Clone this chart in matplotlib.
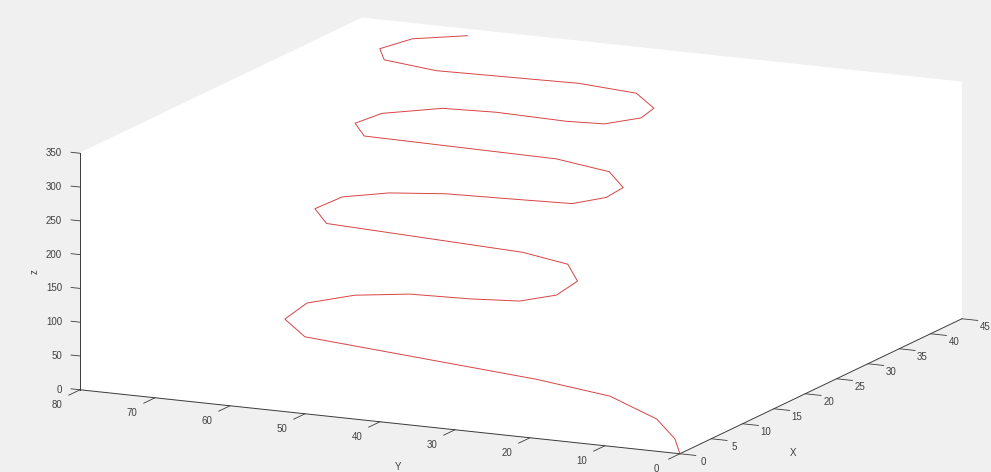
import matplotlib
matplotlib.use('Agg')
import matplotlib.pyplot as plt
from mpl_toolkits.mplot3d import proj3d

plt.rcParams['font.family'] = ['Liberation Sans', 'DejaVu Sans']

# trajectory points
x = [0, 1.6, 3.6, 5.6, 6.6, 8.6, 10.3, 12.4, 13.8, 14.6, 14.8, 15.1, 16.2, 18.0,
     19.8, 20.6, 21.0, 21.5, 23.0, 24.6, 25.6, 26.2, 26.4, 26.6, 27.7, 29.0,
     30.6, 31.4, 31.7, 33.0, 34.4, 35.7, 35.9, 35.7, 35.9, 37.0, 38.2, 39.7,
     40.1, 39.8, 40.4, 41.6, 43.1, 44.1]
y = [0, 2.0, 6.1, 14.0, 24.6, 57.2, 61.3, 60.1, 54.9, 48.2, 40.4, 34.0, 30.0, 28.7,
     31.5, 38.2, 51.0, 65.1, 67.9, 65.6, 60.2, 53.1, 45.2, 36.6, 33.0, 31.8,
     35.0, 42.7, 68.6, 70.9, 68.5, 61.5, 54.5, 45.0, 40.1, 36.1, 35.4, 39.0,
     47.0, 65.8, 73.2, 74.8, 71.7, 65.2]
z = [0, 12.6, 28.2, 43.8, 51.7, 67.2, 81.0, 96.9, 108.4, 114.4, 115.7, 118.7, 127.4,
     141.5, 155.3, 161.5, 164.9, 168.3, 180.2, 193.2, 201.1, 205.6, 206.9, 208.8,
     217.2, 227.5, 240.1, 246.4, 248.3, 258.7, 269.9, 279.9, 281.5, 280.3, 281.3,
     290.0, 299.9, 311.2, 314.5, 312.4, 317.0, 326.2, 337.9, 345.7]

xticks = [0, 5, 10, 15, 20, 25, 30, 35, 40, 45]
yticks = [0, 10, 20, 30, 40, 50, 60, 70, 80]
zticks = [0, 50, 100, 150, 200, 250, 300, 350]

txt = '#404040'
dark = '#3a3a3a'

fig = plt.figure(figsize=(9.91, 4.72), dpi=100, facecolor='#f0f0f0')
ax = fig.add_axes([0.0122, -0.5782, 1.0, 2.0996], projection='3d', proj_type='ortho')
ax.set_facecolor('#f0f0f0')
ax.view_init(elev=13.06, azim=-154.73)
ax.set_box_aspect((1, 1.004, 0.3675), zoom=0.9474)

ax.plot(x, y, z, color='#d84444', linewidth=0.7)

ax.set_xlim(0, 45)
ax.set_ylim(0, 80)
ax.set_zlim(0, 350)
ax.set_xticks(xticks)
ax.set_yticks(yticks)
ax.set_zticks(zticks)
ax.grid(False)

tick_len = {'x': 0.33, 'y': 0.5, 'z': 0.0}
for name, axis in (('x', ax.xaxis), ('y', ax.yaxis), ('z', ax.zaxis)):
    axis.set_pane_color((1, 1, 1, 1))
    axis.line.set_color(dark)
    axis.line.set_linewidth(0.7)
    axis._axinfo['tick']['inward_factor'] = tick_len[name]
    axis._axinfo['tick']['outward_factor'] = 0.0
    axis._axinfo['tick']['linewidth'] = {True: 0.6, False: 0.5}
    axis.set_tick_params(which='both', labelbottom=False, labeltop=False, colors=dark)
    axis.label.set_visible(False)
    axis.offsetText.set_visible(False)

# z ticks point left (along y) as in the MATLAB figure
for v in zticks:
    ax.plot([0, 0], [80, 81.2], [v, v], color=dark, linewidth=0.6)

# tick labels placed MATLAB-style next to the axes (projected to 2D text)
M = ax.get_proj()


def label3d(xv, yv, zv, s, **kw):
    px, py, _ = proj3d.proj_transform(xv, yv, zv, M)
    ax.text2D(float(px), float(py), s, transform=ax.transData, fontsize=7, color=txt, **kw)


for v in xticks:
    label3d(v, -3.1, -8.2, str(v), ha='center', va='center')
for v in yticks:
    label3d(-3.7, v, -6.0, str(v), ha='center', va='center')
for v in zticks:
    label3d(0, 82.4, v - 2.8, str(v), ha='right', va='center')

fig.text(0.0353, 0.4237, 'z', fontsize=7, color=txt, rotation=90, ha='center', va='center')
fig.text(0.4016, 0.0106, 'Y', fontsize=7, color=txt, ha='center', va='center')
fig.text(0.800, 0.040, 'X', fontsize=7, color=txt, ha='center', va='center')

fig.savefig('out.png', dpi=100, facecolor=fig.get_facecolor())
